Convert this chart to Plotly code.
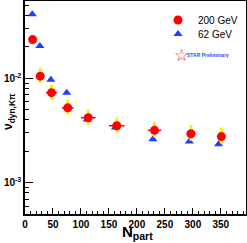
import plotly.graph_objects as go

npart_200 = [13.7, 27.2, 47.4, 76.4, 113, 164, 231.5, 296.6, 351]
nu_200 = [0.0235, 0.0105, 0.0073, 0.00522, 0.0042, 0.00352, 0.00318, 0.00295, 0.00277]
npart_err_200 = [0, 6.5, 10, 10.5, 13, 14, 12, 8, 0]
sys_up_200 = [0, 0.0021, 0.0014, 0.0010, 0.0008, 0.0007, 0.00066, 0.00062, 0.00062]
sys_dn_200 = [0, 0.0015, 0.0010, 0.0007, 0.0006, 0.0005, 0.00045, 0.00042, 0.00040]

npart_62 = [13, 26.6, 46.2, 74.6, 111, 161.6, 228.6, 293.6, 346]
nu_62 = [0.041, 0.0204, 0.0097, 0.00726, 0.00404, 0.00339, 0.00262, 0.00249, 0.00234]

fig = go.Figure()
fig.add_trace(go.Scatter(
    x=npart_62, y=nu_62, mode="markers", name="62 GeV", legend="legend2",
    marker=dict(symbol="triangle-up", size=8, color="#1f3cff"),
))
fig.add_trace(go.Scatter(
    x=npart_200, y=nu_200, mode="markers", name="200 GeV", legend="legend",
    marker=dict(symbol="circle", size=9, color="#ff0000"),
    error_y=dict(type="data", symmetric=False, array=sys_up_200, arrayminus=sys_dn_200,
                 color="#ffee00", thickness=3, width=0),
    error_x=dict(type="data", array=npart_err_200, color="#ff0000", thickness=1.5, width=0),
))

# STAR Preliminary logo
fig.add_annotation(x=(191 - 25) / 221, y=(214 - 44) / 213, xref="paper", yref="paper", text="☆",
                   showarrow=False, font=dict(size=17, color="#ff2020"))
fig.add_annotation(x=(185 - 25) / 221, y=(214 - 50) / 213, xref="paper", yref="paper", text="STAR Preliminary",
                   showarrow=False, xanchor="left",
                   font=dict(size=5, color="#3050ff", family="Liberation Sans", weight="bold"))

# axis titles
fig.add_annotation(x=(137 - 25) / 221, y=(214 - 232.5) / 213, xref="paper", yref="paper",
                   text="N<sub>part</sub>", showarrow=False, yanchor="middle",
                   font=dict(size=15, family="Liberation Sans", weight="bold"))
fig.add_annotation(x=(9 - 25) / 221, y=(214 - 112) / 213, xref="paper", yref="paper",
                   text="ν<sub>dyn,Kπ</sub>", showarrow=False, textangle=-90, xanchor="center",
                   font=dict(size=12, family="Liberation Sans", weight="bold"))

legend_common = dict(xanchor="left", yanchor="middle", bgcolor="rgba(0,0,0,0)",
                     font=dict(size=10, family="Liberation Sans"), itemwidth=30)

fig.update_layout(
    width=247, height=243, margin=dict(l=25, r=1, t=1, b=29, autoexpand=False),
    paper_bgcolor="white", plot_bgcolor="white",
    font=dict(family="Liberation Sans", color="black"),
    showlegend=True,
    legend=dict(x=(158 - 25) / 221, y=(214 - 20) / 213, **legend_common),
    legend2=dict(x=(158 - 25) / 221, y=(214 - 34) / 213, **legend_common),
    xaxis=dict(range=[0, 395], showgrid=False, zeroline=False, showline=True, linecolor="black",
               linewidth=1.5, mirror=True, ticks="inside", ticklen=6, tickcolor="black", automargin=False,
               tickvals=[0, 50, 100, 150, 200, 250, 300, 350], ticktext=["0", "50", "100", "150", "200", "250", "300", "350"],
               minor=dict(dtick=10, ticks="inside", ticklen=3, tickcolor="black"),
               tickfont=dict(size=10, family="Liberation Sans", weight="bold")),
    yaxis=dict(type="log", range=[-3.298, -1.26], showgrid=False, zeroline=False, showline=True, linecolor="black",
               linewidth=1.5, mirror=True, ticks="inside", ticklen=8, tickcolor="black", automargin=False,
               tickvals=[0.001, 0.01], ticktext=["10<sup>-3</sup>", "10<sup>-2</sup>"],
               minor=dict(tickvals=[5e-4, 6e-4, 7e-4, 8e-4, 9e-4, 2e-3, 3e-3, 4e-3, 5e-3, 6e-3, 7e-3, 8e-3, 9e-3, 2e-2, 3e-2, 4e-2, 5e-2],
                          ticks="inside", ticklen=4, tickcolor="black"),
               tickfont=dict(size=10, family="Liberation Sans", weight="bold")),
)
fig.write_html("out.html", config={"displayModeBar": False},
               post_script="document.body.style.margin='0';")
